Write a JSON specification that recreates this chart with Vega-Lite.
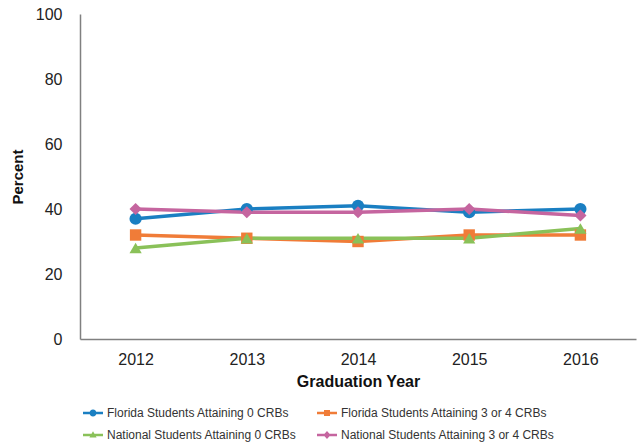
{
  "$schema": "https://vega.github.io/schema/vega-lite/v6.json",
  "width": 556,
  "height": 325,
  "autosize": {"type": "none"},
  "padding": {"left": 80, "top": 14, "right": 6, "bottom": 108},
  "background": "white",
  "config": {
    "view": {"stroke": null},
    "font": "Liberation Sans",
    "axis": {"grid": false, "ticks": false, "domainColor": "#808080", "domainWidth": 1.5, "labelColor": "#222222", "titleColor": "#111111", "labelFont": "Liberation Sans", "titleFont": "Liberation Sans"}
  },
  "data": {
    "values": [
      {"year": "2012", "series": "Florida Students Attaining 0 CRBs", "pct": 37},
      {"year": "2013", "series": "Florida Students Attaining 0 CRBs", "pct": 40},
      {"year": "2014", "series": "Florida Students Attaining 0 CRBs", "pct": 41},
      {"year": "2015", "series": "Florida Students Attaining 0 CRBs", "pct": 39},
      {"year": "2016", "series": "Florida Students Attaining 0 CRBs", "pct": 40},
      {"year": "2012", "series": "Florida Students Attaining 3 or 4 CRBs", "pct": 32},
      {"year": "2013", "series": "Florida Students Attaining 3 or 4 CRBs", "pct": 31},
      {"year": "2014", "series": "Florida Students Attaining 3 or 4 CRBs", "pct": 30},
      {"year": "2015", "series": "Florida Students Attaining 3 or 4 CRBs", "pct": 32},
      {"year": "2016", "series": "Florida Students Attaining 3 or 4 CRBs", "pct": 32},
      {"year": "2012", "series": "National Students Attaining 0 CRBs", "pct": 28},
      {"year": "2013", "series": "National Students Attaining 0 CRBs", "pct": 31},
      {"year": "2014", "series": "National Students Attaining 0 CRBs", "pct": 31},
      {"year": "2015", "series": "National Students Attaining 0 CRBs", "pct": 31},
      {"year": "2016", "series": "National Students Attaining 0 CRBs", "pct": 34},
      {"year": "2012", "series": "National Students Attaining 3 or 4 CRBs", "pct": 40},
      {"year": "2013", "series": "National Students Attaining 3 or 4 CRBs", "pct": 39},
      {"year": "2014", "series": "National Students Attaining 3 or 4 CRBs", "pct": 39},
      {"year": "2015", "series": "National Students Attaining 3 or 4 CRBs", "pct": 40},
      {"year": "2016", "series": "National Students Attaining 3 or 4 CRBs", "pct": 38}
    ]
  },
  "encoding": {
    "x": {
      "field": "year", "type": "ordinal",
      "scale": {"type": "point", "padding": 0.5},
      "axis": {"title": "Graduation Year", "labelAngle": 0, "labelFontSize": 16, "labelPadding": 12, "titleFontSize": 16, "titleFontWeight": "bold", "titlePadding": 6}
    },
    "y": {
      "field": "pct", "type": "quantitative",
      "scale": {"domain": [0, 100], "nice": false},
      "axis": {"title": "Percent", "values": [0, 20, 40, 60, 80, 100], "labelFontSize": 16, "labelPadding": 18, "titleFontSize": 15, "titleFontWeight": "bold", "titlePadding": 10}
    },
    "color": {
      "field": "series", "type": "nominal",
      "scale": {
        "domain": ["Florida Students Attaining 0 CRBs", "Florida Students Attaining 3 or 4 CRBs", "National Students Attaining 0 CRBs", "National Students Attaining 3 or 4 CRBs"],
        "range": ["#1a7fc2", "#f07c38", "#8ac159", "#c5659f"]
      },
      "legend": {
        "title": null,
        "orient": "none",
        "legendX": 3,
        "legendY": 389,
        "direction": "horizontal",
        "columns": 2,
        "columnPadding": 20,
        "rowPadding": 6,
        "symbolSize": 400,
        "symbolStrokeWidth": 0,
        "labelOffset": 4,
        "labelFontSize": 12,
        "labelColor": "#333333",
        "labelFont": "Liberation Sans",
        "labelLimit": 300,
        "encode": {
          "symbols": {
            "update": {
              "fill": {"scale": "color", "field": "value"},
              "strokeWidth": {"value": 0},
              "shape": {"signal": "datum.value == 'Florida Students Attaining 0 CRBs' ? 'M-1,-0.12 H1 V0.12 H-1 Z M-0.35,0 A0.35,0.35 0 1,1 0.35,0 A0.35,0.35 0 1,1 -0.35,0 Z' : datum.value == 'Florida Students Attaining 3 or 4 CRBs' ? 'M-1,-0.12 H1 V0.12 H-1 Z M-0.3,-0.3 H0.3 V0.3 H-0.3 Z' : datum.value == 'National Students Attaining 0 CRBs' ? 'M-1,-0.12 H1 V0.12 H-1 Z M0,-0.38 L0.36,0.26 L-0.36,0.26 Z' : 'M-1,-0.12 H1 V0.12 H-1 Z M0,-0.4 L0.36,0 L0,0.4 L-0.36,0 Z'"}
            }
          }
        }
      }
    }
  },
  "layer": [
    {
      "mark": {"type": "line", "strokeWidth": 3.5}
    },
    {
      "transform": [{"filter": "datum.series == 'Florida Students Attaining 0 CRBs'"}],
      "mark": {"type": "point", "filled": true, "opacity": 1, "size": 150, "shape": "circle"}
    },
    {
      "transform": [{"filter": "datum.series == 'Florida Students Attaining 3 or 4 CRBs'"}],
      "mark": {"type": "point", "filled": true, "opacity": 1, "size": 130, "shape": "square"}
    },
    {
      "transform": [{"filter": "datum.series == 'National Students Attaining 0 CRBs'"}],
      "mark": {"type": "point", "filled": true, "opacity": 1, "size": 150, "shape": "triangle-up"}
    },
    {
      "transform": [{"filter": "datum.series == 'National Students Attaining 3 or 4 CRBs'"}],
      "mark": {"type": "point", "filled": true, "opacity": 1, "size": 150, "shape": "diamond"}
    }
  ]
}
